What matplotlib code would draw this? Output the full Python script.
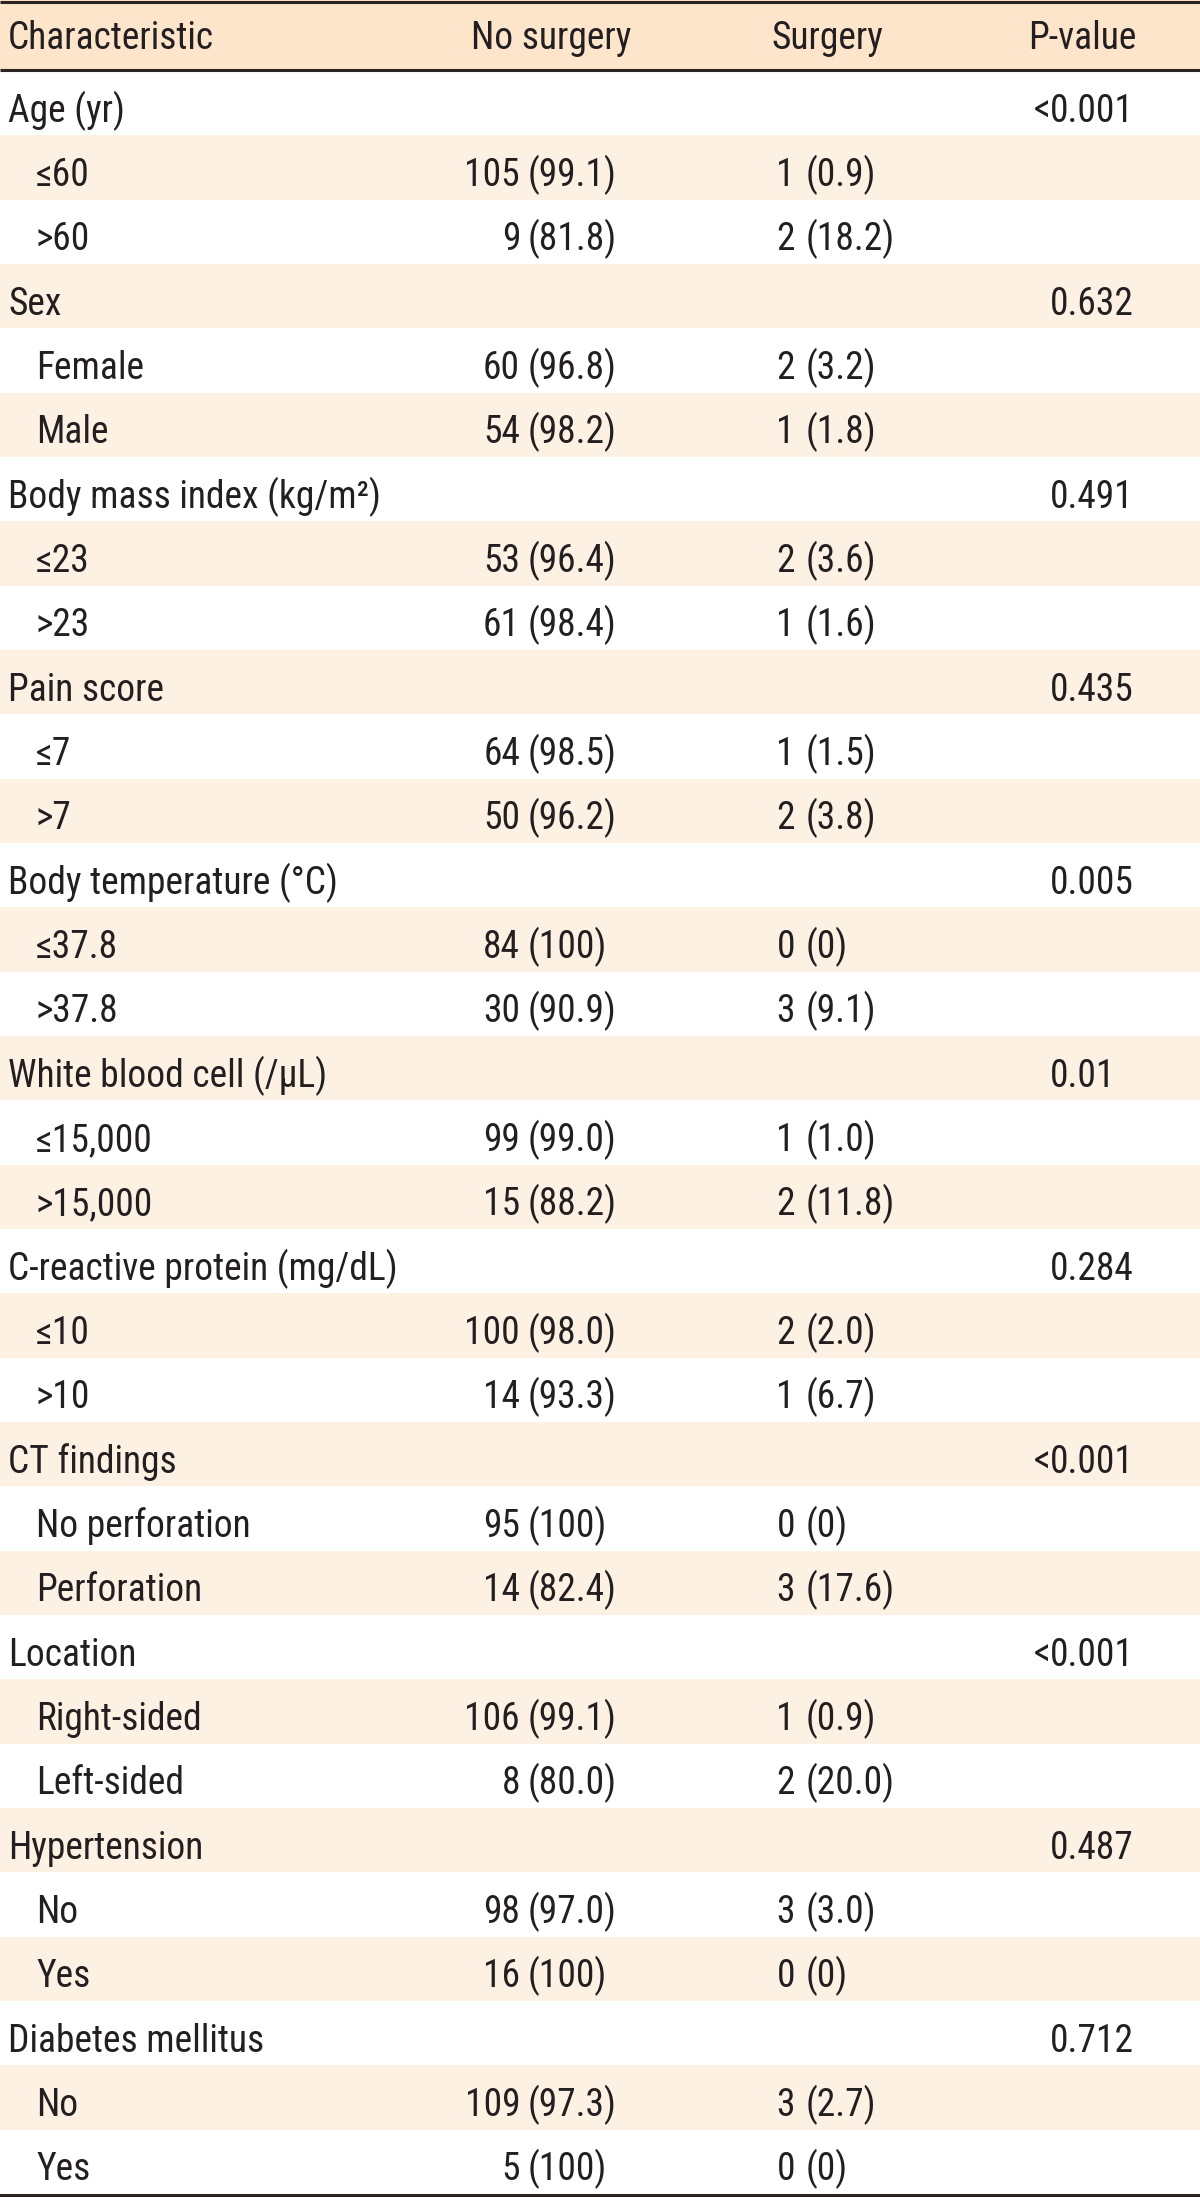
import matplotlib
matplotlib.use("Agg")
import matplotlib.pyplot as plt
from matplotlib import font_manager as fm
from matplotlib.patches import Rectangle

# ---------------- data ----------------
headers = ["Characteristic", "No surgery", "Surgery", "P-value"]

characteristics = ["Age (yr)", "Sex", "Body mass index (kg/m²)", "Pain score",
                   "Body temperature (°C)", "White blood cell (/µL)",
                   "C-reactive protein (mg/dL)", "CT findings", "Location",
                   "Hypertension", "Diabetes mellitus"]
p_values = ["<0.001", "0.632", "0.491", "0.435", "0.005", "0.01", "0.284",
            "<0.001", "<0.001", "0.487", "0.712"]
subgroups = [["≤60", ">60"], ["Female", "Male"], ["≤23", ">23"], ["≤7", ">7"],
             ["≤37.8", ">37.8"], ["≤15,000", ">15,000"], ["≤10", ">10"],
             ["No perforation", "Perforation"], ["Right-sided", "Left-sided"],
             ["No", "Yes"], ["No", "Yes"]]
no_surgery_n = [[105, 9], [60, 54], [53, 61], [64, 50], [84, 30], [99, 15],
                [100, 14], [95, 14], [106, 8], [98, 16], [109, 5]]
no_surgery_pct = [["99.1", "81.8"], ["96.8", "98.2"], ["96.4", "98.4"],
                  ["98.5", "96.2"], ["100", "90.9"], ["99.0", "88.2"],
                  ["98.0", "93.3"], ["100", "82.4"], ["99.1", "80.0"],
                  ["97.0", "100"], ["97.3", "100"]]
surgery_n = [[1, 2], [2, 1], [2, 1], [1, 2], [0, 3], [1, 2], [2, 1], [0, 3],
             [1, 2], [3, 0], [3, 0]]
surgery_pct = [["0.9", "18.2"], ["3.2", "1.8"], ["3.6", "1.6"], ["1.5", "3.8"],
               ["0", "9.1"], ["1.0", "11.8"], ["2.0", "6.7"], ["0", "17.6"],
               ["0.9", "20.0"], ["3.0", "0"], ["2.7", "0"]]

# ---------------- font ----------------
entries = fm.fontManager.ttflist
names = {f.name for f in entries}
stretch = "normal"
fsize = 22
if "Roboto Condensed" in names:
    family = ["Roboto Condensed", "DejaVu Sans"]
    fsize = 27
elif "Liberation Sans Narrow" in names:
    family = ["Liberation Sans Narrow", "DejaVu Sans"]
    fsize = 27
elif any(f.name == "DejaVu Sans" and str(f.stretch) in ("condensed", "semi-condensed") for f in entries):
    family = ["DejaVu Sans"]
    stretch = "condensed"
    fsize = 23
else:
    family = ["Liberation Sans", "DejaVu Sans"]
    fsize = 23

TXT = "#231f20"
HEAD_BG = "#fde5cc"
STRIPE = "#fdf1e4"
LINE = "#2b2422"

W, H = 1200, 2197
fig = plt.figure(figsize=(W / 100, H / 100), dpi=100)
ax = fig.add_axes([0, 0, 1, 1])
ax.set_xlim(0, W)
ax.set_ylim(H, 0)
ax.axis("off")

kw = dict(family=family, fontstretch=stretch, fontsize=fsize, color=TXT, va="baseline")

# header
head_top, head_bot = 0, 70
ax.add_patch(Rectangle((0, head_top), W, head_bot - head_top, color=HEAD_BG, lw=0))
head_base = 49
ax.text(8, head_base, headers[0], ha="left", **kw)
ax.text(551, head_base, headers[1], ha="center", **kw)
ax.text(827, head_base, headers[2], ha="center", **kw)
ax.text(1082, head_base, headers[3], ha="center", **kw)

# body rows
rows = []
for i, c in enumerate(characteristics):
    rows.append(("main", c, None, None, None, None, p_values[i]))
    for j, s in enumerate(subgroups[i]):
        rows.append(("sub", s, no_surgery_n[i][j], no_surgery_pct[i][j],
                     surgery_n[i][j], surgery_pct[i][j], None))

body_top, body_bot = 71, 2194
rh = (body_bot - body_top) / len(rows)
for k, (kind, label, nn, npct, sn, spct, p) in enumerate(rows):
    y0 = body_top + k * rh
    if k % 2 == 1:
        ax.add_patch(Rectangle((0, y0), W, rh, color=STRIPE, lw=0))
    base = y0 + 0.79 * rh
    if kind == "main":
        ax.text(8, base, label, ha="left", **kw)
        if p.startswith("<"):
            ax.text(1050, base, "<", ha="right", **kw)
            ax.text(1050, base, p[1:], ha="left", **kw)
        else:
            ax.text(1050, base, p, ha="left", **kw)
    else:
        ax.text(36, base, label, ha="left", **kw)
        ax.text(520, base, str(nn), ha="right", **kw)
        ax.text(528, base, f"({npct})", ha="left", **kw)
        ax.text(795, base, str(sn), ha="right", **kw)
        ax.text(806, base, f"({spct})", ha="left", **kw)

# rules
ax.hlines(1.5, 0, W, color=LINE, lw=2.2)
ax.hlines(69.5, 0, W, color=LINE, lw=2.2)
ax.hlines(2195.5, 0, W, color=LINE, lw=2.9)

fig.savefig("out.png", dpi=100)
